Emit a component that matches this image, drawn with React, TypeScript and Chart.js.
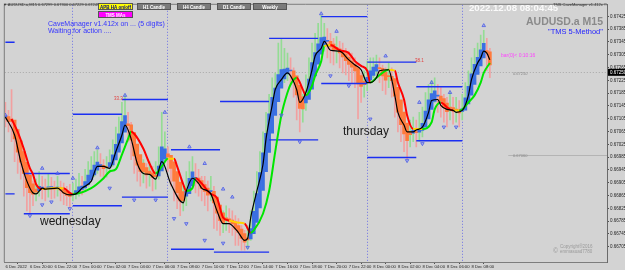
import React, { useEffect, useRef } from "react";
import { Chart, registerables } from "chart.js";
Chart.register(...registerables);

// ---------- DATA ----------
const timeLabels = [
  "6 Dec 2022", "6 Dec 20:00", "6 Dec 22:00", "7 Dec 00:00", "7 Dec 02:00", "7 Dec 04:00",
  "7 Dec 06:00", "7 Dec 08:00", "7 Dec 10:00", "7 Dec 12:00", "7 Dec 14:00", "7 Dec 16:00",
  "7 Dec 18:00", "7 Dec 20:00", "7 Dec 22:00", "8 Dec 00:00", "8 Dec 02:00", "8 Dec 04:00",
  "8 Dec 06:00", "8 Dec 08:00",
];
const barsPerLabel = 8;
const yTicks = [
  0.67425, 0.67385, 0.67345, 0.67305, 0.67265, 0.67225, 0.67185, 0.67145, 0.67105, 0.67065,
  0.67025, 0.66985, 0.66945, 0.66905, 0.66865, 0.66825, 0.66785, 0.66745, 0.66705,
];
const firstOpen = 0.67119;
const closes = [
  0.67101, 0.67088, 0.67070, 0.67033, 0.66987, 0.66956, 0.66916, 0.66885, 0.66873, 0.66860,
  0.66879, 0.66894, 0.66891, 0.66879, 0.66897, 0.66891, 0.66885, 0.66891, 0.66879, 0.66870,
  0.66863, 0.66860, 0.66873, 0.66879, 0.66894, 0.66891, 0.66916, 0.66934, 0.66947, 0.66965,
  0.66971, 0.66956, 0.66947, 0.66953, 0.66971, 0.67002, 0.67033, 0.67070, 0.67101, 0.67110,
  0.67064, 0.67017, 0.66971, 0.66956, 0.66934, 0.66940, 0.66925, 0.66934, 0.66916, 0.66925,
  0.66971, 0.67002, 0.67008, 0.66977, 0.66940, 0.66894, 0.66863, 0.66833, 0.66848, 0.66894,
  0.66925, 0.66940, 0.66910, 0.66894, 0.66879, 0.66873, 0.66863, 0.66879, 0.66833, 0.66802,
  0.66771, 0.66780, 0.66787, 0.66780, 0.66771, 0.66756, 0.66740, 0.66719, 0.66709, 0.66725,
  0.66780, 0.66833, 0.66894, 0.66956, 0.67017, 0.67079, 0.67141, 0.67187, 0.67212, 0.67233,
  0.67242, 0.67255, 0.67264, 0.67248, 0.67212, 0.67172, 0.67125, 0.67141, 0.67193, 0.67248,
  0.67285, 0.67316, 0.67341, 0.67356, 0.67366, 0.67341, 0.67325, 0.67316, 0.67322, 0.67310,
  0.67295, 0.67285, 0.67273, 0.67264, 0.67255, 0.67218, 0.67202, 0.67218, 0.67242, 0.67264,
  0.67273, 0.67279, 0.67255, 0.67233, 0.67224, 0.67242, 0.67218, 0.67156, 0.67110, 0.67079,
  0.67048, 0.67039, 0.67064, 0.67070, 0.67058, 0.67079, 0.67094, 0.67141, 0.67172, 0.67187,
  0.67193, 0.67172, 0.67156, 0.67131, 0.67125, 0.67141, 0.67125, 0.67131, 0.67119, 0.67141,
  0.67181, 0.67218, 0.67255, 0.67279, 0.67304, 0.67325, 0.67347, 0.67285, 0.67250,
];
const highs = [
  0.67156, 0.67131, 0.67196, 0.67094, 0.67048, 0.67017, 0.67002, 0.66940, 0.66925, 0.66910,
  0.66916, 0.66940, 0.66925, 0.66916, 0.66934, 0.66922, 0.66910, 0.66925, 0.66910, 0.66904,
  0.66894, 0.66900, 0.66904, 0.66916, 0.66934, 0.66925, 0.66947, 0.66971, 0.66987, 0.67002,
  0.67008, 0.66996, 0.66977, 0.66987, 0.67008, 0.67039, 0.67079, 0.67110, 0.67156, 0.67178,
  0.67125, 0.67094, 0.67033, 0.67002, 0.66977, 0.66977, 0.66965, 0.66971, 0.66956, 0.66971,
  0.67017, 0.67125, 0.67064, 0.67017, 0.66987, 0.66956, 0.66916, 0.66894, 0.66894, 0.66940,
  0.66971, 0.66987, 0.66965, 0.66947, 0.66925, 0.66925, 0.66910, 0.66925, 0.66894, 0.66848,
  0.66833, 0.66817, 0.66833, 0.66824, 0.66817, 0.66802, 0.66793, 0.66771, 0.66756, 0.66771,
  0.66817, 0.66879, 0.66940, 0.67002, 0.67064, 0.67125, 0.67181, 0.67233, 0.67248, 0.67341,
  0.67356, 0.67325, 0.67310, 0.67295, 0.67264, 0.67233, 0.67187, 0.67181, 0.67242, 0.67295,
  0.67341, 0.67372, 0.67403, 0.67427, 0.67403, 0.67387, 0.67372, 0.67356, 0.67362, 0.67347,
  0.67341, 0.67325, 0.67316, 0.67310, 0.67295, 0.67279, 0.67248, 0.67255, 0.67285, 0.67295,
  0.67295, 0.67304, 0.67295, 0.67273, 0.67264, 0.67279, 0.67264, 0.67218, 0.67172, 0.67125,
  0.67101, 0.67079, 0.67101, 0.67110, 0.67101, 0.67125, 0.67141, 0.67187, 0.67212, 0.67224,
  0.67233, 0.67212, 0.67202, 0.67181, 0.67172, 0.67187, 0.67172, 0.67172, 0.67162, 0.67181,
  0.67218, 0.67255, 0.67295, 0.67325, 0.67341, 0.67366, 0.67381, 0.67356, 0.67325,
];
const lows = [
  0.67079, 0.67064, 0.67033, 0.66971, 0.66934, 0.66916, 0.66863, 0.66817, 0.66811, 0.66833,
  0.66848, 0.66863, 0.66854, 0.66848, 0.66860, 0.66854, 0.66857, 0.66863, 0.66848, 0.66836,
  0.66833, 0.66827, 0.66848, 0.66854, 0.66863, 0.66867, 0.66879, 0.66894, 0.66910, 0.66925,
  0.66934, 0.66925, 0.66916, 0.66922, 0.66940, 0.66956, 0.66987, 0.67017, 0.67058, 0.67070,
  0.67033, 0.66977, 0.66934, 0.66910, 0.66894, 0.66904, 0.66888, 0.66894, 0.66879, 0.66885,
  0.66916, 0.66971, 0.66971, 0.66940, 0.66894, 0.66848, 0.66824, 0.66802, 0.66817, 0.66833,
  0.66885, 0.66904, 0.66873, 0.66863, 0.66848, 0.66833, 0.66817, 0.66848, 0.66762, 0.66756,
  0.66740, 0.66749, 0.66756, 0.66749, 0.66740, 0.66709, 0.66709, 0.66694, 0.66694, 0.66700,
  0.66725, 0.66771, 0.66817, 0.66894, 0.66956, 0.67017, 0.67079, 0.67125, 0.67156, 0.67187,
  0.67202, 0.67218, 0.67224, 0.67212, 0.67172, 0.67101, 0.67064, 0.67094, 0.67131, 0.67181,
  0.67248, 0.67273, 0.67295, 0.67310, 0.67316, 0.67295, 0.67279, 0.67273, 0.67279, 0.67264,
  0.67248, 0.67242, 0.67224, 0.67218, 0.67202, 0.67104, 0.67156, 0.67172, 0.67193, 0.67218,
  0.67233, 0.67242, 0.67218, 0.67193, 0.67181, 0.67202, 0.67172, 0.67110, 0.67064, 0.67033,
  0.67002, 0.66980, 0.67017, 0.67033, 0.67017, 0.67033, 0.67048, 0.67094, 0.67131, 0.67150,
  0.67156, 0.67125, 0.67110, 0.67094, 0.67079, 0.67101, 0.67088, 0.67094, 0.67079, 0.67101,
  0.67141, 0.67172, 0.67212, 0.67242, 0.67264, 0.67285, 0.67310, 0.67255, 0.67233,
];
// [bar index, price]
const fastMA: [number, number][] = [
  [0, 0.6711], [3, 0.67054], [5, 0.66971], [7, 0.6691], [9, 0.66873], [10, 0.6687], [12, 0.66888],
  [13, 0.66885], [17, 0.66888], [19, 0.66873], [21, 0.66867], [23, 0.6687], [25, 0.66888], [28, 0.6691],
  [30, 0.66956], [32, 0.66956], [34, 0.6695], [36, 0.67002], [38, 0.67054], [39, 0.67085], [41, 0.67042],
  [43, 0.66965], [45, 0.66934], [47, 0.66931], [49, 0.66916], [51, 0.66971], [54, 0.669], [58, 0.66842],
  [59, 0.66879], [61, 0.66919], [63, 0.66903], [64, 0.66888], [66, 0.66879], [67, 0.6687], [69, 0.66817],
  [71, 0.66777], [73, 0.66777], [74, 0.66771], [76, 0.66749], [78, 0.66725], [79, 0.66731], [80, 0.66796],
  [82, 0.66879], [84, 0.66962], [85, 0.67042], [87, 0.67147], [88, 0.67196], [90, 0.67227], [92, 0.67248],
  [93, 0.67239], [95, 0.67196], [96, 0.67156], [98, 0.67187], [100, 0.67258], [101, 0.67301], [103, 0.67325],
  [104, 0.67347], [106, 0.67319], [109, 0.67316], [112, 0.67289], [114, 0.67273], [116, 0.67258], [118, 0.67218],
  [119, 0.67218], [121, 0.67233], [122, 0.67255], [125, 0.67258], [126, 0.67227], [127, 0.67178], [128, 0.67125],
  [130, 0.67085], [131, 0.67064], [133, 0.67064], [134, 0.6707], [136, 0.67079], [138, 0.67125], [139, 0.67162],
  [141, 0.67165], [142, 0.67147], [144, 0.67134], [146, 0.67131], [147, 0.67125], [149, 0.67131], [151, 0.67178],
  [152, 0.67227], [154, 0.67279], [155, 0.67295], [156, 0.67316], [157, 0.6731], [158, 0.67289],
];
const slowMA: [number, number][] = [
  [2, 0.67104], [4, 0.67064], [6, 0.67011], [8, 0.6695], [9, 0.66931], [10, 0.669], [12, 0.66885],
  [15, 0.66888], [19, 0.66888], [21, 0.66873], [22, 0.6687], [28, 0.66888], [32, 0.66919], [34, 0.6694],
  [36, 0.66947], [38, 0.66993], [40, 0.67042], [41, 0.67064], [42, 0.67058], [45, 0.67011], [47, 0.66965],
  [49, 0.66934], [51, 0.66956], [53, 0.6698], [55, 0.6698], [56, 0.66956], [58, 0.669], [59, 0.66879],
  [61, 0.66888], [62, 0.66919], [64, 0.66903], [66, 0.66879], [67, 0.6687], [69, 0.66857], [71, 0.66796],
  [73, 0.66787], [76, 0.6678], [78, 0.66777], [80, 0.66749], [81, 0.66756], [84, 0.66808], [86, 0.66879],
  [88, 0.67002], [90, 0.67116], [92, 0.67187], [93, 0.67212], [95, 0.67233], [97, 0.67196], [98, 0.67178],
  [100, 0.67208], [101, 0.67239], [103, 0.67285], [104, 0.67332], [106, 0.67335], [109, 0.67319], [112, 0.6731],
  [114, 0.67285], [116, 0.6727], [118, 0.67255], [119, 0.67218], [121, 0.67233], [124, 0.67255], [125, 0.67258],
  [127, 0.67255], [128, 0.67218], [130, 0.67165], [131, 0.67116], [133, 0.67073], [135, 0.67073], [136, 0.67073],
  [139, 0.67094], [140, 0.67134], [142, 0.67156], [143, 0.6715], [144, 0.67141], [146, 0.67131], [148, 0.67131],
  [149, 0.67134], [151, 0.67156], [153, 0.67178], [155, 0.67218], [156, 0.67248], [158, 0.67279],
];
// [start bar, end bar, price]
const levels: [number, number, number][] = [
  [0, 3, 0.6687], [0, 3, 0.67344], [6, 21, 0.66934], [6, 21, 0.66808], [22, 38, 0.66833], [22, 38, 0.67119],
  [38, 53, 0.67165], [38, 53, 0.6686], [54, 70, 0.67008], [54, 68, 0.66697], [68, 86, 0.66688], [70, 86, 0.67159],
  [86, 102, 0.67039], [86, 102, 0.67356], [103, 118, 0.67424], [103, 118, 0.67215], [118, 134, 0.67282],
  [118, 134, 0.66984], [134, 149, 0.67205], [134, 149, 0.67036],
];
const upMarks: [number, number][] = [
  [0, 0.67116], [12, 0.6695], [17, 0.66934], [22, 0.66919], [30, 0.67014], [39, 0.67178], [52, 0.67125],
  [60, 0.67017], [65, 0.66965], [71, 0.66885], [74, 0.6686], [103, 0.67433], [108, 0.67378], [124, 0.67301],
  [135, 0.67156], [139, 0.67218], [145, 0.67187], [156, 0.67396],
];
const downMarks: [number, number][] = [
  [8, 0.66802], [12, 0.66836], [15, 0.66845], [21, 0.66824], [34, 0.66888], [42, 0.66851], [49, 0.66851],
  [55, 0.66793], [59, 0.66777], [65, 0.66725], [71, 0.66716], [79, 0.66703], [90, 0.67116], [96, 0.67033],
  [106, 0.67239], [112, 0.67208], [119, 0.67104], [131, 0.66974], [136, 0.67027], [143, 0.67079], [147, 0.67079],
];
const sessionMarks = [21.7, 52.8, 117.8, 148.9];
const bidPrice = 0.6725;
const pivotLines: [number, number][] = [[164, 0.66993]];

const X_MIN = -0.2;
const X_MAX = 196.2;
const Y_MIN = 0.666572;
const Y_MAX = 0.67461;

const FONT = "'Liberation Sans', Arial, sans-serif";

export default function App() {
  const ref = useRef<HTMLCanvasElement>(null);

  useEffect(() => {
    document.body.style.margin = "0";
    const canvas = ref.current!;
    const opens = closes.map((_, i) => (i === 0 ? firstOpen : closes[i - 1]));
    // Heiken Ashi bodies built from the OHLC arrays
    const haClose: number[] = [];
    const haOpen: number[] = [];
    closes.forEach((c, i) => {
      haClose.push((opens[i] + highs[i] + lows[i] + c) / 4);
      haOpen.push(i === 0 ? (opens[0] + c) / 2 : (haOpen[i - 1] + haClose[i - 1]) / 2);
    });
    const levelData: any[] = [];
    levels.forEach(([s, e, p]) => {
      levelData.push({ x: s, y: p }, { x: e, y: p }, { x: e, y: null });
    });

    const overlay = {
      id: "overlay",
      beforeDatasetsDraw(chart: any) {
        const { ctx, chartArea: a, scales } = chart;
        ctx.save();
        ctx.lineWidth = 1;
        ctx.strokeStyle = "#6f72e6";
        ctx.setLineDash([1, 2]);
        sessionMarks.forEach((m) => {
          const x = Math.round(scales.x.getPixelForValue(m)) + 0.5;
          ctx.beginPath();
          ctx.moveTo(x, a.top);
          ctx.lineTo(x, a.bottom);
          ctx.stroke();
        });
        const by = Math.round(scales.y.getPixelForValue(bidPrice)) + 0.5;
        ctx.strokeStyle = "#a8a8a8";
        ctx.beginPath();
        ctx.moveTo(a.left, by);
        ctx.lineTo(a.right, by);
        ctx.stroke();
        ctx.setLineDash([]);
        ctx.strokeStyle = "#b4b4b4";
        pivotLines.forEach(([s, p]) => {
          const y = Math.round(scales.y.getPixelForValue(p)) + 0.5;
          ctx.beginPath();
          ctx.moveTo(scales.x.getPixelForValue(s), y);
          ctx.lineTo(a.right, y);
          ctx.stroke();
        });
        ctx.restore();
      },
      afterDraw(chart: any) {
        const { ctx, chartArea: a, scales } = chart;
        ctx.save();
        ctx.strokeStyle = "#7c7c7c";
        ctx.lineWidth = 1;
        ctx.beginPath();
        ctx.moveTo(a.left - 0.5, a.bottom);
        ctx.lineTo(a.left - 0.5, a.top - 0.5);
        ctx.lineTo(a.right, a.top - 0.5);
        ctx.stroke();
        const by = scales.y.getPixelForValue(bidPrice);
        ctx.fillStyle = "#000";
        ctx.fillRect(a.right + 1, by - 3.5, 18, 7);
        ctx.fillStyle = "#fff";
        ctx.font = `4.5px ${FONT}`;
        ctx.textBaseline = "middle";
        ctx.fillText(bidPrice.toFixed(5), a.right + 3, by);
        ctx.restore();
      },
    };

    const chart = new Chart(canvas, {
      type: "bar",
      data: {
        datasets: [
          {
            type: "bar",
            data: closes.map((_, i) => ({ x: i, y: [lows[i], highs[i]] })) as any,
            backgroundColor: closes.map((c, i) => (c >= opens[i] ? "#94dc94" : "#f2a0a0")),
            barThickness: 1,
            grouped: false,
            order: 10,
          } as any,
          {
            type: "bar",
            data: haClose.map((c, i) => ({ x: i, y: [haOpen[i], c] })) as any,
            backgroundColor: haClose.map((c, i) => (c >= haOpen[i] ? "#3a6fe2" : "#ff7a3c")),
            barThickness: 3,
            minBarLength: 1,
            grouped: false,
            order: 9,
          } as any,
          {
            type: "line",
            data: levelData,
            borderColor: "#1b2ff2",
            borderWidth: 1.4,
            pointRadius: 0,
            spanGaps: false,
            order: 8,
          } as any,
          {
            type: "line",
            data: slowMA.map(([x, y]) => ({ x, y })),
            borderWidth: 2,
            pointRadius: 0,
            cubicInterpolationMode: "monotone",
            borderColor: "#ff0000",
            segment: {
              borderColor: (c: any) => {
                const d = (c.p1.parsed.y - c.p0.parsed.y) / (c.p1.parsed.x - c.p0.parsed.x);
                return d > 0.000025 ? "#00e600" : d < -0.000025 ? "#ff0000" : "#ffd400";
              },
            },
            order: 7,
          } as any,
          {
            type: "line",
            data: fastMA.map(([x, y]) => ({ x, y })),
            borderWidth: 1.2,
            borderColor: "#000000",
            pointRadius: 0,
            cubicInterpolationMode: "monotone",
            order: 6,
          } as any,
          {
            type: "line",
            data: upMarks.map(([x, y]) => ({ x, y })),
            showLine: false,
            pointStyle: "triangle",
            pointRadius: 2,
            pointBorderWidth: 0.8,
            pointBorderColor: "#4a5be6",
            pointBackgroundColor: "rgba(120,140,255,0.4)",
            order: 5,
          } as any,
          {
            type: "line",
            data: downMarks.map(([x, y]) => ({ x, y })),
            showLine: false,
            pointStyle: "triangle",
            pointRotation: 180,
            pointRadius: 2,
            pointBorderWidth: 0.8,
            pointBorderColor: "#4a5be6",
            pointBackgroundColor: "rgba(120,140,255,0.4)",
            order: 5,
          } as any,
        ],
      },
      options: {
        responsive: false,
        animation: false,
        devicePixelRatio: 1,
        layout: { padding: { left: 2, top: 1, right: 0, bottom: 0 } },
        plugins: { legend: { display: false }, tooltip: { enabled: false } },
        scales: {
          x: {
            type: "linear",
            min: X_MIN,
            max: X_MAX,
            offset: false,
            grid: { display: true, drawOnChartArea: false, drawTicks: true, tickLength: 2, color: "#505050" },
            border: { display: true, color: "#7c7c7c" },
            afterBuildTicks: (s: any) => {
              s.ticks = timeLabels.map((_, k) => ({ value: k * barsPerLabel }));
            },
            afterFit: (s: any) => {
              s.height = 8;
            },
            ticks: {
              autoSkip: false,
              maxRotation: 0,
              minRotation: 0,
              align: "start",
              padding: 0,
              color: "#222",
              font: { size: 4.2, family: FONT },
              callback: (v: any) => timeLabels[Math.round(Number(v) / barsPerLabel)] ?? "",
            },
          } as any,
          y: {
            type: "linear",
            position: "right",
            min: Y_MIN,
            max: Y_MAX,
            grid: { display: true, drawOnChartArea: false, drawTicks: true, tickLength: 2, color: "#505050" },
            border: { display: true, color: "#6a6a6a" },
            afterBuildTicks: (s: any) => {
              s.ticks = yTicks.map((v) => ({ value: v }));
            },
            afterFit: (s: any) => {
              s.width = 18;
            },
            ticks: {
              padding: 1,
              color: "#222",
              font: { size: 4.5, family: FONT },
              callback: (v: any) => Number(v).toFixed(5),
            },
          } as any,
        },
      },
      plugins: [overlay],
    } as any);
    return () => chart.destroy();
  }, []);

  const abs = (s: React.CSSProperties): React.CSSProperties => ({
    position: "absolute",
    whiteSpace: "nowrap",
    lineHeight: 1,
    fontFamily: FONT,
    ...s,
  });
  const btn = (left: number, top: number, bg: string, color: string, label: string, w = 34) => (
    <div
      style={abs({
        left,
        top,
        width: w,
        height: 7,
        background: bg,
        color,
        fontSize: 4.5,
        fontWeight: "bold",
        textAlign: "center",
        lineHeight: "7px",
        boxSizing: "border-box",
        border: "1px solid #555",
      })}
    >
      {label}
    </div>
  );

  return (
    <div
      style={{
        position: "absolute",
        left: 0,
        top: 0,
        width: 625,
        height: 270,
        background: "#d3d3d3",
        overflow: "hidden",
      }}
    >
      <canvas ref={ref} width={625} height={270} style={{ display: "block", width: 625, height: 270 }} />
      <div style={abs({ left: 3, top: 3, fontSize: 4, color: "#333" })}>
        ▼ AUDUSD.a,M15 0.67299 0.67300 0.67229 0.67249
      </div>
      {btn(98, 3, "#ffff00", "#000080", "APB HA on/off", 35)}
      {btn(98, 11, "#ff00ff", "#ffffff", "TMS MAs", 35)}
      {btn(137, 3, "#7b7b7b", "#ffffff", "H1 Candle")}
      {btn(177, 3, "#7b7b7b", "#ffffff", "H4 Candle")}
      {btn(217, 3, "#7b7b7b", "#ffffff", "D1 Candle")}
      {btn(253, 3, "#7b7b7b", "#ffffff", "Weekly")}
      <div style={abs({ left: 48, top: 20, fontSize: 7, color: "#3535ff" })}>
        CaveManager v1.412x on ... (5 digits)
      </div>
      <div style={abs({ left: 48, top: 27, fontSize: 7, color: "#3535ff" })}>Waiting for action ....</div>
      <div style={abs({ left: 469, top: 3, fontSize: 9.6, fontWeight: "bold", color: "#fafafa" })}>
        2022.12.08 08:04:45
      </div>
      <div style={abs({ left: 553, top: 3, fontSize: 4, color: "#333" })}>TMS CaveManager v1.412x ©</div>
      <div style={abs({ left: 526, top: 16, fontSize: 10.5, fontWeight: "bold", color: "#8a8a8a" })}>
        AUDUSD.a M15
      </div>
      <div style={abs({ left: 548, top: 28, fontSize: 7.5, color: "#1f1fff" })}>"TMS 5-Method"</div>
      <div style={abs({ left: 501, top: 53, fontSize: 5, color: "#ff40ff" })}>bar(0)&lt; 0:10:16</div>
      <div style={abs({ left: 40, top: 215, fontSize: 12, color: "#1a1a1a" })}>wednesday</div>
      <div style={abs({ left: 343, top: 124.5, fontSize: 12, color: "#1a1a1a" })}>thursday</div>
      <div style={abs({ left: 114, top: 97, fontSize: 4.5, color: "#e04040" })}>33.3</div>
      <div style={abs({ left: 415, top: 59, fontSize: 4.5, color: "#e04040" })}>38.1</div>
      <div style={abs({ left: 513, top: 72, fontSize: 4, color: "#888" })}>0.67250</div>
      <div style={abs({ left: 513, top: 154, fontSize: 4, color: "#888" })}>0.67060</div>
      <div style={abs({ left: 553, top: 247, fontSize: 7, color: "#9a9a9a" })}>©</div>
      <div style={abs({ left: 560, top: 245, fontSize: 4.5, color: "#9a9a9a" })}>Copyright®2016</div>
      <div style={abs({ left: 560, top: 250, fontSize: 4.5, color: "#9a9a9a" })}>emmasuad7780</div>
    </div>
  );
}
